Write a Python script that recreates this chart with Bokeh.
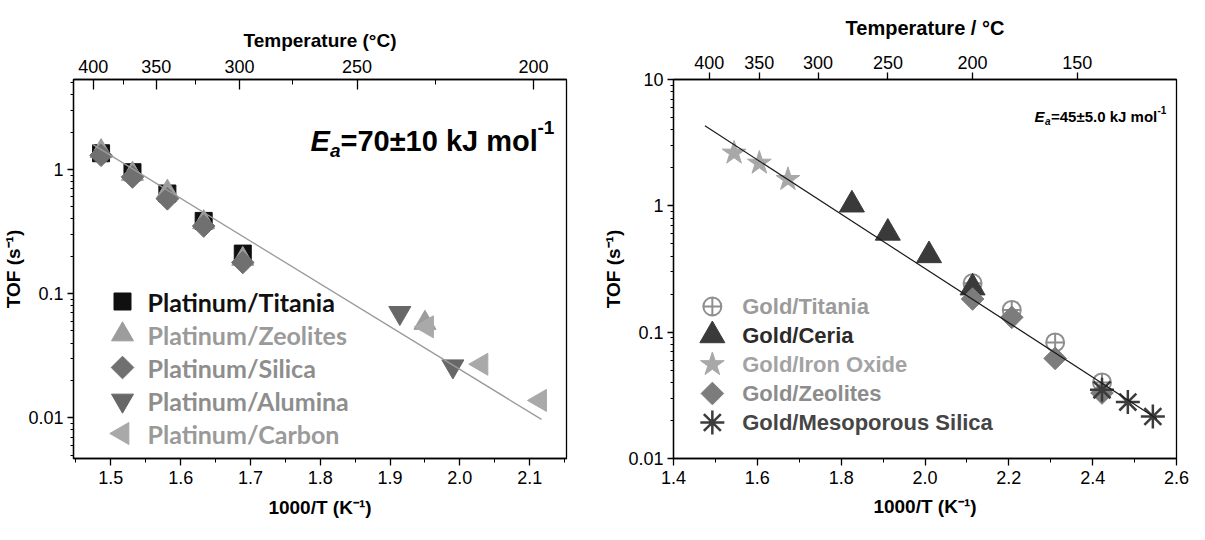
import math
from bokeh.plotting import figure
from bokeh.models import (Range1d, LinearAxis, FixedTicker, SingleIntervalTicker,
                          NumeralTickFormatter, CustomJSTickFormatter, Label, LinearScale)
from bokeh.layouts import row
from bokeh.embed import file_html
from bokeh.resources import INLINE
from bokeh.core.properties import value

AXIS_FONT = "Liberation Sans"

# ---------------- data: panel a (platinum) ----------------
pt_titania_x = [1.486, 1.531, 1.581, 1.633, 1.689]
pt_titania_y = [1.35, 0.95, 0.64, 0.385, 0.21]
pt_zeolites_x = [1.486, 1.531, 1.581, 1.633, 1.689, 1.950]
pt_zeolites_y = [1.40, 0.92, 0.66, 0.375, 0.19, 0.058]
pt_silica_x = [1.486, 1.531, 1.581, 1.633, 1.689]
pt_silica_y = [1.30, 0.87, 0.58, 0.350, 0.178]
pt_alumina_x = [1.914, 1.990]
pt_alumina_y = [0.070, 0.026]
pt_carbon_x = [1.953, 2.031, 2.115]
pt_carbon_y = [0.054, 0.027, 0.0138]
pt_fit_x = [1.474, 2.117]
pt_fit_y = [1.59, 0.0097]
pt_names = ["Platinum/Titania", "Platinum/Zeolites", "Platinum/Silica",
            "Platinum/Alumina", "Platinum/Carbon"]
a_top_labels = ["400", "350", "300", "250", "200"]
a_top_major = [1.4748, 1.5652, 1.6844, 1.8527, 2.1055]
a_top_minor = [1.5182, 1.6215, 1.7607, 1.9658]
a_y_ticks = [0.01, 0.1, 1]
a_y_labels = ["0.01", "0.1", "1"]

# ---------------- data: panel b (gold) ----------------
au_titania_x = [2.1135, 2.2070, 2.3105, 2.4223]
au_titania_y = [0.244, 0.150, 0.083, 0.040]
au_ceria_x = [1.8256, 1.9113, 2.0096, 2.1135]
au_ceria_y = [1.02, 0.61, 0.405, 0.225]
au_iron_x = [1.5445, 1.6048, 1.6730]
au_iron_y = [2.62, 2.18, 1.62]
au_zeolites_x = [2.1135, 2.2070, 2.3105, 2.4223]
au_zeolites_y = [0.183, 0.131, 0.062, 0.033]
au_meso_x = [2.4223, 2.4839, 2.5436]
au_meso_y = [0.035, 0.028, 0.0215]
au_fit_x = [1.475, 2.553]
au_fit_y = [4.3, 0.0206]
au_names = ["Gold/Titania", "Gold/Ceria", "Gold/Iron Oxide", "Gold/Zeolites",
            "Gold/Mesoporous Silica"]
b_top_temps = [400, 350, 300, 250, 200, 150]
b_y_ticks = [0.01, 0.1, 1, 10]
b_y_labels = ["0.01", "0.1", "1", "10"]

# ---------------- styles / layout ----------------
A_STYLES = [
    dict(marker="square", size=17, angle=0, fill_color="#101010", line_color="#101010", line_width=1),
    dict(marker="triangle", size=22, angle=0, fill_color="#9c9c9c", line_color="#9c9c9c", line_width=1),
    dict(marker="square", size=16, angle=math.pi / 4, fill_color="#707070", line_color="#707070", line_width=1),
    dict(marker="inverted_triangle", size=22, angle=0, fill_color="#676767", line_color="#676767", line_width=1),
    dict(marker="triangle", size=22, angle=math.pi / 2, fill_color="#a9a9a9", line_color="#a9a9a9", line_width=1),
]
A_TEXT_COLORS = ["#111111", "#9a9a9a", "#8e8e8e", "#8e8e8e", "#9a9a9a"]

B_STYLES = [
    dict(marker="circle_cross", size=18, angle=0, fill_color=None, line_color="#8e8e8e", line_width=2),
    dict(marker="triangle", size=25, angle=0, fill_color="#3a3a3a", line_color="#3a3a3a", line_width=1),
    dict(marker="star", size=25, angle=0, fill_color="#a8a8a8", line_color="#a8a8a8", line_width=1),
    dict(marker="square", size=16, angle=math.pi / 4, fill_color="#7c7c7c", line_color="#7c7c7c", line_width=1),
    dict(marker="asterisk", size=24, angle=0, fill_color=None, line_color="#3c3c3c", line_width=2.5),
]
B_TEXT_COLORS = ["#9b9b9b", "#2b2b2b", "#a3a3a3", "#8c8c8c", "#454545"]

FIG_TOP = 8
FIG_H = 524
FRAME_TOP = 87
FRAME_BOTTOM = 466


def make_fig(fig_left, fig_right, frame_left, frame_right, x_range, y_range):
    p = figure(width=fig_right - fig_left, height=FIG_H, x_range=x_range, y_range=y_range,
               y_axis_type="log", output_backend="svg", toolbar_location=None, tools="",
               min_border_left=frame_left - fig_left, min_border_right=fig_right - frame_right,
               min_border_top=FRAME_TOP - FIG_TOP,
               min_border_bottom=FIG_TOP + FIG_H - FRAME_BOTTOM)
    p.extra_x_ranges = {"lx": Range1d(frame_left, frame_right)}
    p.extra_y_ranges = {"ly": Range1d(FRAME_BOTTOM, FRAME_TOP)}
    p.extra_x_scales = {"lx": LinearScale()}
    p.extra_y_scales = {"ly": LinearScale()}
    p.xgrid.visible = False
    p.ygrid.visible = False
    p.outline_line_color = "black"
    p.outline_line_width = 1.3
    p.background_fill_color = "white"
    p.border_fill_color = "white"
    return p


def style_axis(ax, t_in=0, t_out=7, m_in=0, m_out=4, standoff=5, lab_standoff=6):
    ax.axis_line_color = "black"
    ax.axis_line_width = 1.3
    ax.major_tick_line_color = "black"
    ax.major_tick_line_width = 1.3
    ax.minor_tick_line_color = "black"
    ax.minor_tick_line_width = 1
    ax.major_tick_in = t_in
    ax.major_tick_out = t_out
    ax.minor_tick_in = m_in
    ax.minor_tick_out = m_out
    ax.major_label_standoff = standoff
    ax.axis_label_standoff = lab_standoff
    ax.major_label_text_font = AXIS_FONT
    ax.major_label_text_font_size = "18px"
    ax.major_label_text_color = "black"
    ax.axis_label_text_font = AXIS_FONT
    ax.axis_label_text_font_style = "bold"
    ax.axis_label_text_font_size = "19px"
    ax.axis_label_text_color = "black"


def label_formatter(positions, labels):
    return CustomJSTickFormatter(args=dict(pos=list(positions), labels=list(labels)), code="""
        for (let i = 0; i < pos.length; i++) {
            if (Math.abs(pos[i] - tick) < 1e-6 * Math.max(1, Math.abs(tick))) return labels[i];
        }
        return "";
    """)


def log_minor(decades):
    return [d * k for d in decades for k in range(2, 10)]


def add_label(p, frame_left, cx, cy, text, size, style="bold", baseline="alphabetic",
              color="black", font=AXIS_FONT):
    p.add_layout(Label(x=cx - frame_left, y=FRAME_BOTTOM - cy, x_units="screen", y_units="screen",
                       text=text, text_font=font, text_font_size=size, text_font_style=style,
                       text_color=color, text_baseline=baseline, text_align="left"))


def draw_legend(p, names, styles, colors, mx, tx, rows, font, size):
    for yy, st in zip(rows, styles):
        p.scatter([mx], [yy], x_range_name="lx", y_range_name="ly", **st)
    p.text(x=[tx] * len(names), y=rows, text=names, x_range_name="lx", y_range_name="ly",
           text_font=value(font), text_font_style="bold", text_font_size=size,
           text_baseline="middle", text_align="left", text_color=colors)


# ======================= panel a =======================
A_FL, A_FR = 81, 574
pa = make_fig(8, 608, A_FL, A_FR, Range1d(1.4465, 2.1528), Range1d(0.0047, 5.3))

pa.scatter(pt_titania_x, pt_titania_y, **A_STYLES[0])
pa.scatter(pt_zeolites_x, pt_zeolites_y, **A_STYLES[1])
pa.scatter(pt_silica_x, pt_silica_y, **A_STYLES[2])
pa.scatter(pt_alumina_x, pt_alumina_y, **A_STYLES[3])
pa.scatter(pt_carbon_x, pt_carbon_y, **A_STYLES[4])
pa.line(pt_fit_x, pt_fit_y, line_color="#9a9a9a", line_width=1.3)

xa = pa.xaxis[0]
xa.ticker = SingleIntervalTicker(interval=0.1, num_minor_ticks=2)
xa.formatter = NumeralTickFormatter(format="0.0")
xa.axis_label = "1000/T (K⁻¹)"
style_axis(xa, t_out=7, m_out=4, standoff=5, lab_standoff=10)

ya = pa.yaxis[0]
ya.ticker = FixedTicker(ticks=a_y_ticks, minor_ticks=log_minor([0.001, 0.01, 0.1, 1]))
ya.formatter = label_formatter(a_y_ticks, a_y_labels)
ya.axis_label = "TOF (s⁻¹)"
style_axis(ya, t_out=6, m_out=3, standoff=4, lab_standoff=1)

ta = LinearAxis(ticker=FixedTicker(ticks=a_top_major, minor_ticks=a_top_minor),
                formatter=label_formatter(a_top_major, a_top_labels),
                axis_label="Temperature (°C)")
style_axis(ta, t_in=10, t_out=0, m_in=5, m_out=0, standoff=7, lab_standoff=6)
pa.add_layout(ta, "above")

draw_legend(pa, pt_names, A_STYLES, A_TEXT_COLORS, 130, 155,
            [309, 342, 375, 408, 441], "Lato", "25px")

add_label(pa, A_FL, 25, 37, "a", "28px", baseline="middle")
add_label(pa, A_FL, 318, 148, "E", "29px", style="bold italic")
add_label(pa, A_FL, 337.5, 158, "a", "19px", style="bold italic")
add_label(pa, A_FL, 348, 148, "=70±10 kJ mol", "29px")
add_label(pa, A_FL, 545, 135, "-1", "19px")

# ======================= panel b =======================
B_FL, B_FR = 679, 1184
pb = make_fig(608, 1197, B_FL, B_FR, Range1d(1.4, 2.6), Range1d(0.01, 10))

pb.scatter(au_titania_x, au_titania_y, **B_STYLES[0])
pb.scatter(au_ceria_x, au_ceria_y, **B_STYLES[1])
pb.scatter(au_iron_x, au_iron_y, **B_STYLES[2])
pb.scatter(au_zeolites_x, au_zeolites_y, **B_STYLES[3])
pb.scatter(au_meso_x, au_meso_y, **B_STYLES[4])
pb.line(au_fit_x, au_fit_y, line_color="#1a1a1a", line_width=1.2)

xb = pb.xaxis[0]
xb.ticker = SingleIntervalTicker(interval=0.2, num_minor_ticks=2)
xb.formatter = NumeralTickFormatter(format="0.0")
xb.axis_label = "1000/T (K⁻¹)"
style_axis(xb, t_out=7, m_out=4, standoff=5, lab_standoff=9)

yb = pb.yaxis[0]
yb.ticker = FixedTicker(ticks=b_y_ticks, minor_ticks=log_minor([0.01, 0.1, 1]))
yb.formatter = label_formatter(b_y_ticks, b_y_labels)
yb.axis_label = "TOF (s⁻¹)"
style_axis(yb, t_out=6, m_out=3, standoff=4, lab_standoff=1)

b_top_pos = [1000.0 / (t + 273.15) for t in b_top_temps]
tb = LinearAxis(ticker=FixedTicker(ticks=b_top_pos),
                formatter=label_formatter(b_top_pos, [str(t) for t in b_top_temps]),
                axis_label="Temperature / °C")
style_axis(tb, t_in=0, t_out=7, m_in=0, m_out=0, standoff=4, lab_standoff=14)
tb.axis_label_text_font_size = "20px"
pb.add_layout(tb, "above")

draw_legend(pb, au_names, B_STYLES, B_TEXT_COLORS, 718, 748,
            [314, 343, 372, 401, 430], AXIS_FONT, "22px")

add_label(pb, B_FL, 616, 35, "b", "28px", baseline="middle")
add_label(pb, B_FL, 1040, 124, "E", "15px", style="bold italic")
add_label(pb, B_FL, 1050.5, 129, "a", "10px", style="bold italic")
add_label(pb, B_FL, 1056.5, 124, "=45±5.0 kJ mol", "15px")
add_label(pb, B_FL, 1163, 117, "-1", "10px")

layout = row(pa, pb)
open("out.html", "w").write(file_html(layout, INLINE))
